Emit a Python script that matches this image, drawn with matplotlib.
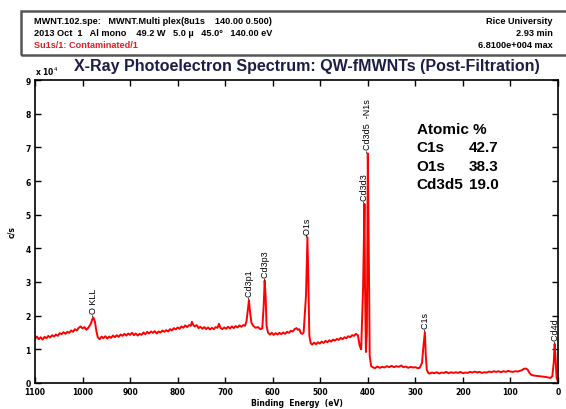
import numpy as np
import matplotlib
matplotlib.use('Agg')
import matplotlib.pyplot as plt
from matplotlib.patches import Rectangle

# spectrum: binding energy (eV), counts (x 10^4 c/s)
energy = [1100, 1096, 1092, 1088, 1084, 1080, 1076, 1072, 1068, 1064,
          1060, 1056, 1052, 1048, 1044, 1040, 1036, 1032, 1028, 1024,
          1020, 1016, 1012, 1008, 1004, 1000, 996, 992, 988, 985,
          982, 980, 977, 974, 971, 968, 964, 960, 956, 952,
          948, 944, 940, 936, 932, 928, 924, 920, 916, 912,
          908, 904, 900, 896, 892, 888, 884, 880, 876, 872,
          868, 864, 860, 856, 852, 848, 844, 840, 836, 832,
          828, 824, 820, 816, 812, 808, 804, 800, 796, 792,
          788, 784, 780, 776, 772, 770, 767, 764, 760, 756,
          752, 748, 744, 740, 736, 732, 728, 724, 720, 716,
          713, 710, 706, 702, 698, 694, 690, 686, 682, 678,
          674, 670, 666, 662, 658, 655, 653, 650, 648, 645,
          641, 636, 631, 626, 622, 619, 617, 615, 613, 610,
          606, 602, 598, 594, 590, 586, 582, 578, 574, 570,
          566, 562, 558, 554, 550, 547, 544, 541, 538, 535,
          530, 527, 525, 523, 520, 517, 513, 509, 505, 501,
          497, 493, 489, 485, 481, 477, 473, 469, 465, 461,
          457, 453, 449, 445, 441, 437, 433, 429, 425, 421,
          417, 414, 410, 407, 406, 404, 402, 401, 400, 398,
          396, 393, 390, 385, 380, 375, 370, 365, 360, 355,
          350, 345, 340, 335, 330, 325, 320, 315, 310, 305,
          300, 295, 291, 286, 283, 280, 278, 276, 273, 270,
          265, 260, 255, 250, 245, 240, 235, 230, 225, 220,
          215, 210, 205, 200, 195, 190, 185, 180, 175, 170,
          165, 160, 155, 150, 145, 140, 135, 130, 125, 120,
          115, 110, 105, 100, 95, 90, 85, 80, 76, 72,
          68, 64, 60, 56, 50, 44, 38, 32, 26, 20,
          16, 12, 9, 7, 5, 3, 1, 0]
counts = [1.31, 1.38, 1.30, 1.36, 1.29, 1.37, 1.33, 1.40, 1.35, 1.42,
          1.38, 1.44, 1.40, 1.48, 1.45, 1.51, 1.46, 1.52, 1.49, 1.56,
          1.52, 1.60, 1.56, 1.64, 1.68, 1.62, 1.66, 1.58, 1.64, 1.70,
          1.78, 1.88, 1.94, 1.82, 1.55, 1.36, 1.30, 1.38, 1.33, 1.39,
          1.32, 1.38, 1.34, 1.41, 1.36, 1.42, 1.37, 1.44, 1.40, 1.46,
          1.41, 1.47, 1.43, 1.49, 1.42, 1.47, 1.41, 1.46, 1.43, 1.50,
          1.45, 1.52, 1.47, 1.53, 1.49, 1.54, 1.47, 1.53, 1.50, 1.56,
          1.52, 1.57, 1.53, 1.60, 1.56, 1.63, 1.59, 1.65, 1.61, 1.68,
          1.64, 1.71, 1.66, 1.72, 1.70, 1.82, 1.72, 1.68, 1.72, 1.63,
          1.67, 1.61, 1.66, 1.60, 1.65, 1.59, 1.64, 1.60, 1.66, 1.64,
          1.76, 1.64, 1.60, 1.65, 1.61, 1.67, 1.62, 1.68, 1.63, 1.69,
          1.65, 1.71, 1.67, 1.72, 1.70, 1.85, 2.10, 2.46, 2.15, 1.80,
          1.70, 1.64, 1.66, 1.60, 1.62, 2.30, 3.04, 2.60, 1.70, 1.50,
          1.44, 1.49, 1.43, 1.48, 1.44, 1.49, 1.45, 1.50, 1.46, 1.52,
          1.49, 1.55, 1.53, 1.60, 1.63, 1.58, 1.60, 1.48, 1.46, 1.50,
          2.60, 4.33, 3.00, 1.40, 1.18, 1.14, 1.20, 1.15, 1.21, 1.17,
          1.23, 1.19, 1.25, 1.21, 1.27, 1.23, 1.29, 1.26, 1.31, 1.28,
          1.34, 1.30, 1.36, 1.33, 1.39, 1.36, 1.42, 1.40, 1.46, 1.42,
          1.10, 1.00, 2.80, 5.32, 3.00, 0.92, 1.50, 4.20, 6.82, 4.00,
          0.80, 0.50, 0.47, 0.44, 0.49, 0.45, 0.48, 0.46, 0.50, 0.47,
          0.51, 0.47, 0.50, 0.48, 0.52, 0.47, 0.49, 0.45, 0.48, 0.46,
          0.47, 0.44, 0.45, 0.60, 1.10, 1.51, 0.80, 0.40, 0.30, 0.28,
          0.31, 0.29, 0.32, 0.28, 0.31, 0.30, 0.33, 0.29, 0.32, 0.30,
          0.32, 0.30, 0.33, 0.29, 0.31, 0.30, 0.33, 0.31, 0.34, 0.31,
          0.33, 0.30, 0.32, 0.31, 0.34, 0.32, 0.35, 0.33, 0.35, 0.32,
          0.35, 0.33, 0.36, 0.34, 0.33, 0.35, 0.34, 0.36, 0.38, 0.42,
          0.43, 0.40, 0.30, 0.24, 0.22, 0.21, 0.20, 0.19, 0.18, 0.16,
          0.15, 0.20, 0.60, 1.16, 0.70, 0.15, 0.08, 0.02]

peak_labels = ['-O KLL', '-Cd3p1', '-Cd3p3', '-O1s', '-Cd3d3', '-Cd3d5  -N1s', '-C1s', '-Cd4d']
peak_pos = [977, 650, 617, 527, 407, 400, 280, 7]
peak_top = [1.94, 2.46, 3.04, 4.33, 5.32, 6.82, 1.51, 1.16]

quant_names = ['C1s', 'O1s', 'Cd3d5']
quant_vals = ['42.7', '38.3', '19.0']

fig = plt.figure(figsize=(5.66, 4.10), dpi=100)

# header box
fig.patches.append(Rectangle((21/566, 1-56/410), 560/566, 44/410, transform=fig.transFigure,
                             fill=False, edgecolor='#555555', linewidth=1.8))
hdr = dict(fontsize=6.6, fontweight='bold', family='Liberation Sans')
fig.text(34/566, 1-21/410, 'MWNT.102.spe:   MWNT.Multi plex(8u1s    140.00 0.500)', va='center', **hdr)
fig.text(34/566, 1-33/410, '2013 Oct  1   Al mono    49.2 W   5.0 \u00b5   45.0\u00b0   140.00 eV', va='center', **hdr)
fig.text(34/566, 1-46/410, 'Su1s/1: Contaminated/1', va='center', color='#e02020', **hdr)
fig.text(553/566, 1-21/410, 'Rice University', ha='right', va='center', **hdr)
fig.text(553/566, 1-33/410, '2.93 min', ha='right', va='center', **hdr)
fig.text(553/566, 1-46/410, '6.8100e+004 max', ha='right', va='center', **hdr)

ax = fig.add_axes([35/566, 1-384/410, 523/566, 303/410])
ax.plot(energy, counts, color='red', linewidth=1.4)
ax.set_xlim(1100, 0)
ax.set_ylim(0, 9)
ax.set_xticks(np.arange(1100, -1, -100))
ax.set_yticks(np.arange(0, 10, 1))
ax.tick_params(direction='in', length=4, width=1, top=True, right=True, labelsize=5.5)
ax.tick_params(axis='x', pad=3)
ax.tick_params(axis='y', pad=3)
for lab in ax.get_xticklabels() + ax.get_yticklabels():
    lab.set_fontweight('bold')
for s in ax.spines.values():
    s.set_linewidth(1.2)

ax.set_xlabel('Binding  Energy  (eV)', fontsize=5.5, fontweight='bold', labelpad=1)
ax.set_ylabel('c/s', fontsize=5.5, fontweight='bold', labelpad=7)
ax.text(0.0, 1.015, r'x 10$^4$', transform=ax.transAxes, fontsize=5.5, fontweight='bold')

fig.text(307/566, 1-66/410, 'X-Ray Photoelectron Spectrum: QW-fMWNTs (Post-Filtration)',
         ha='center', va='center', fontsize=11.5, fontweight='bold', color='#1c1c48',
         family='Liberation Sans')

for lab, x, y in zip(peak_labels, peak_pos, peak_top):
    ax.text(x, y + 0.05, lab, rotation=90, ha='center', va='bottom', fontsize=6.5,
            family='Liberation Sans')

ax.text(297, 7.55, 'Atomic %', fontsize=11, fontweight='bold', va='center', family='Liberation Sans')
for i, (n, v) in enumerate(zip(quant_names, quant_vals)):
    yy = 7.0 - i * 0.55
    ax.text(297, yy, n, fontsize=11, fontweight='bold', va='center', family='Liberation Sans')
    ax.text(188, yy, v, fontsize=11, fontweight='bold', va='center', family='Liberation Sans')

fig.savefig('out.png', dpi=100)
